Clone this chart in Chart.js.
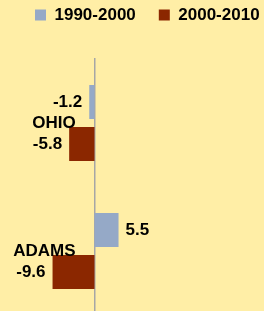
<!DOCTYPE html>
<html>
<head>
<meta charset="utf-8">
<script src="https://cdn.jsdelivr.net/npm/chart.js@4/dist/chart.umd.min.js"></script>
<style>
  html, body { margin: 0; padding: 0; background: #FFEEA6; overflow: hidden; }
  #wrap { width: 264px; height: 311px; overflow: hidden; }
  canvas { display: block; }
</style>
</head>
<body>
<div id="wrap">
  <!-- a few px taller than the window: the plot runs off the bottom edge -->
  <canvas id="chart" width="264" height="315"></canvas>
</div>
<script>
const categories = ['OHIO', 'ADAMS'];
const seriesNames = ['1990-2000', '2000-2010'];
const values1990 = [-1.2, 5.5];
const values2000 = [-5.8, -9.6];

const FONT = { family: '"Liberation Sans", Arial, sans-serif', size: 17, weight: 'bold' };

// value labels next to the end of each bar
const barLabels = {
  id: 'barLabels',
  afterDatasetsDraw(chart) {
    const ctx = chart.ctx;
    ctx.save();
    ctx.font = `bold ${FONT.size}px ${FONT.family}`;
    ctx.fillStyle = '#000';
    ctx.textBaseline = 'middle';
    chart.data.datasets.forEach((ds, i) => {
      chart.getDatasetMeta(i).data.forEach((bar, j) => {
        const v = ds.data[j];
        if (v < 0) {
          ctx.textAlign = 'right';
          ctx.fillText(v.toFixed(1), bar.x - 7, bar.y);
        } else {
          ctx.textAlign = 'left';
          ctx.fillText(v.toFixed(1), bar.x + 7, bar.y);
        }
      });
    });
    ctx.restore();
  }
};

// push the plot area down below the legend
const legendSpace = {
  id: 'legendSpace',
  beforeInit(chart) {
    const fit = chart.legend.fit;
    chart.legend.fit = function () {
      fit.call(this);
      this.height = 75.5;
    };
  }
};

function noPad(scale) {
  scale.paddingTop = 0;
  scale.paddingBottom = 0;
}

new Chart(document.getElementById('chart'), {
  type: 'bar',
  data: {
    labels: categories,
    datasets: [{
      label: seriesNames[0],
      data: values1990,
      backgroundColor: '#95A9C7',
      categoryPercentage: 0.656,
      barPercentage: 0.81
    }, {
      label: seriesNames[1],
      data: values2000,
      backgroundColor: '#8B2700',
      categoryPercentage: 0.656,
      barPercentage: 0.81
    }]
  },
  options: {
    indexAxis: 'y',
    responsive: false,
    animation: false,
    layout: { padding: { left: 12, right: -25, top: -16.5, bottom: 0 } },
    plugins: {
      legend: {
        align: 'start',
        labels: {
          boxWidth: 11,
          boxHeight: 11,
          padding: 23,
          color: '#000',
          font: FONT
        }
      },
      tooltip: { enabled: false }
    },
    scales: {
      x: {
        display: false,
        min: -18.88,
        max: 38.79,
        afterFit: noPad
      },
      y: {
        position: { x: 0 },
        grid: { display: false, drawTicks: false },
        border: { display: true, color: '#A6A6A6', width: 1.5 },
        ticks: {
          color: '#000',
          font: FONT,
          z: 1,
          // labels sit a bit left of the zero line
          callback(value) {
            return this.getLabelForValue(value) + '    ';
          }
        },
        afterFit: noPad
      }
    }
  },
  plugins: [barLabels, legendSpace]
});
</script>
</body>
</html>
